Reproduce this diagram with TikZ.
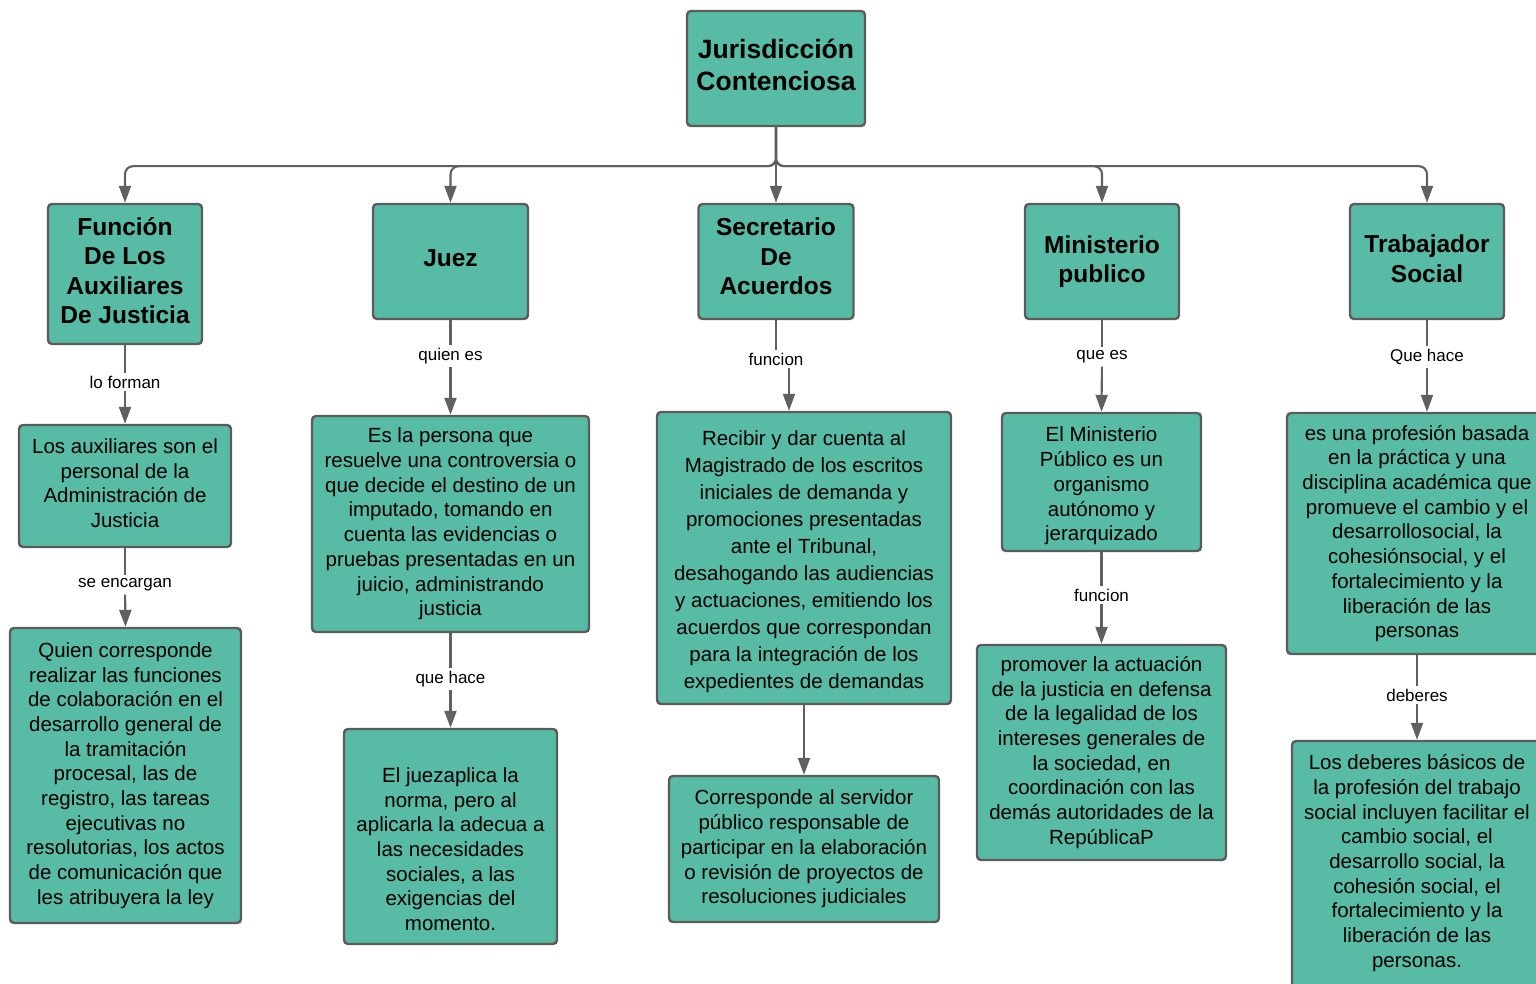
\documentclass[tikz,border=0pt]{standalone}
\usepackage{fontspec}
\setmainfont{Liberation Sans}
\usepackage{tikz}
\usetikzlibrary{arrows.meta,positioning}

\definecolor{boxfill}{RGB}{87,187,166}
\definecolor{boxline}{RGB}{92,92,92}
\definecolor{linkgray}{RGB}{96,96,96}

% struts to nudge text inside a box
\newcommand{\padtop}[1]{\rule{0pt}{#1}}
\newcommand{\padbot}[1]{\rule[-#1]{0pt}{#1}}

\tikzset{
  box/.style={draw=boxline, fill=boxfill, line width=2.4pt, rounded corners=4pt, align=center, inner sep=0pt},
  titlebox/.style={box, font={\fontsize{26.5}{32}\selectfont\bfseries}},
  headbox/.style={box, font={\fontsize{24.5}{29.5}\selectfont\bfseries}},
  bodybox/.style={box, font={\fontsize{20.5}{24.7}\selectfont}},
  linklabel/.style={font={\fontsize{17}{20}\selectfont}, inner sep=3pt},
  link/.style={linkgray, line width=2.1pt},
  linkarrow/.style={link, -{Triangle[width=12pt,length=17pt]}}
}

\begin{document}
\begin{tikzpicture}[x=1pt, y=-1pt]
\useasboundingbox (0,0) rectangle (1536,984);
\clip (0,0) rectangle (1536,984);

% cabecera
\node [titlebox, minimum width=178pt, minimum height=115pt] (jur) at (776,68.5) {Jurisdicción\\Contenciosa\padbot{8pt}};

\node [headbox, minimum width=154pt, minimum height=140pt] (fun) at (125,274) {Función\\De Los\\Auxiliares\\De Justicia\padbot{7pt}};
\node [headbox, minimum width=155pt, minimum height=115pt] (juez) at (450.5,261.5) {Juez\padbot{6pt}};
\node [headbox, minimum width=155pt, minimum height=115pt] (sec) at (776,261.5) {Secretario\\De\\Acuerdos\padbot{10pt}};
\node [headbox, minimum width=154pt, minimum height=115pt] (min) at (1102,261.5) {Ministerio\\publico};
\node [headbox, minimum width=154pt, minimum height=115pt] (trab) at (1427,261.5) {Trabajador\\Social\padbot{6pt}};

\draw [linkarrow, rounded corners=8pt] (jur.south) -- ++(0,39) -| (fun.north);
\draw [linkarrow, rounded corners=8pt] (jur.south) -- ++(0,39) -| (juez.north);
\draw [linkarrow] (jur.south) -- (jur.south |- sec.north);
\draw [linkarrow, rounded corners=8pt] (jur.south) -- ++(0,39) -| (min.north);
\draw [linkarrow, rounded corners=8pt] (jur.south) -- ++(0,39) -| (trab.north);

% auxiliares
\node [bodybox, minimum width=212pt, minimum height=122pt] (aux) at (125,486) {Los auxiliares son el\\personal de la\\Administración de\\Justicia\padbot{6pt}};
\node [bodybox, minimum width=231pt, minimum height=295pt] (auxfun) at (125.5,775.5) {Quien corresponde\\realizar las funciones\\de colaboración en el\\desarrollo general de\\la tramitación\\procesal, las de\\registro, las tareas\\ejecutivas no\\resolutorias, los actos\\de comunicación que\\les atribuyera la ley};
\node [linklabel] (lforman) at (125,382) {lo forman};
\node [linklabel] (lencargan) at (125,585) {se encargan};
\draw [link] (fun.south) -- (lforman);
\draw [linkarrow] (lforman) -- (aux.north);
\draw [link] (aux.south) -- (lencargan);
\draw [linkarrow] (lencargan) -- (auxfun.north);

% juez
\node [bodybox, minimum width=277pt, minimum height=216pt] (juezdef) at (450.5,524) {Es la persona que\\resuelve una controversia o\\que decide el destino de un\\imputado, tomando en\\cuenta las evidencias o\\pruebas presentadas en un\\juicio, administrando\\justicia};
\node [bodybox, minimum width=213pt, minimum height=215pt] (juezhace) at (450.5,836.5) {\padtop{40pt}El juezaplica la\\norma, pero al\\aplicarla la adecua a\\las necesidades\\sociales, a las\\exigencias del\\momento.};
\node [linklabel] (lquien) at (450.5,356) {quien es};
\node [linklabel] (lhace) at (450.5,679) {que hace};
\draw [link] (juez.south) -- (lquien);
\draw [linkarrow] (lquien) -- (juezdef.north);
\draw [link] (juezdef.south) -- (lhace);
\draw [linkarrow] (lhace) -- (juezhace.north);

% secretario
\node [box, font={\fontsize{20.5}{27}\selectfont}, minimum width=294pt, minimum height=292pt] (secfun) at (804,558) {\padtop{23pt}Recibir y dar cuenta al\\Magistrado de los escritos\\iniciales de demanda y\\promociones presentadas\\ante el Tribunal,\\desahogando las audiencias\\y actuaciones, emitiendo los\\acuerdos que correspondan\\para la integración de los\\expedientes de demandas};
\node [bodybox, minimum width=270pt, minimum height=146pt] (secserv) at (804,849) {Corresponde al servidor\\público responsable de\\participar en la elaboración\\o revisión de proyectos de\\resoluciones judiciales};
\node [linklabel] (lsecfun) at (776,359) {funcion};
\draw [link] (sec.south) -- (lsecfun);
\draw [linkarrow] ([xshift=13pt]lsecfun.south) -- ([xshift=13pt]lsecfun.south |- secfun.north);
\draw [linkarrow] (secfun.south) -- (secserv.north);

% ministerio
\node [bodybox, minimum width=199pt, minimum height=138pt] (mindef) at (1101.5,482) {\padtop{23pt}El Ministerio\\Público es un\\organismo\\autónomo y\\jerarquizado};
\node [bodybox, minimum width=249pt, minimum height=215pt] (minfun) at (1101.5,752.5) {promover la actuación\\de la justicia en defensa\\de la legalidad de los\\intereses generales de\\la sociedad, en\\coordinación con las\\demás autoridades de la\\RepúblicaP};
\node [linklabel] (lquees) at (1102,357) {que es};
\node [linklabel] (lminfun) at (1101.5,595) {funcion};
\draw [link] (min.south) -- (lquees);
\draw [linkarrow] (lquees) -- (mindef.north);
\draw [link] (mindef.south) -- (lminfun);
\draw [linkarrow] (lminfun) -- (minfun.north);

% trabajador social
\node [bodybox, minimum width=260pt, minimum height=241pt] (trabdef) at (1417,533.5) {es una profesión basada\\en la práctica y una\\disciplina académica que\\promueve el cambio y el\\desarrollosocial, la\\cohesiónsocial, y el\\fortalecimiento y la\\liberación de las\\personas};
\node [bodybox, minimum width=250pt, minimum height=254pt] (trabdeb) at (1417,868) {Los deberes básicos de\\la profesión del trabajo\\social incluyen facilitar el\\cambio social, el\\desarrollo social, la\\cohesión social, el\\fortalecimiento y la\\liberación de las\\personas.\padbot{14pt}};
\node [linklabel] (lquehace) at (1427,357) {Que hace};
\node [linklabel] (ldeberes) at (1417,695) {deberes};
\draw [link] (trab.south) -- (lquehace);
\draw [linkarrow] (lquehace) -- (lquehace |- trabdef.north);
\draw [link] (trabdef.south) -- (ldeberes);
\draw [linkarrow] (ldeberes) -- (trabdeb.north);

\end{tikzpicture}
\end{document}
